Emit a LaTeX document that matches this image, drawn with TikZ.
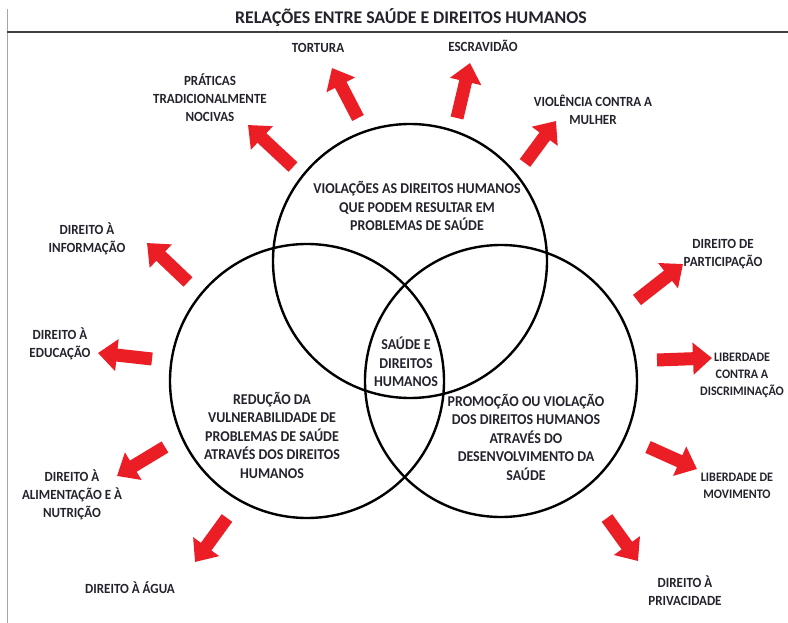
\documentclass[tikz,border=0pt]{standalone}
\usepackage{fontspec}
\setmainfont{Carlito}
\newfontfamily\narrowfont[FakeStretch=0.93]{Carlito}
\usetikzlibrary{arrows.meta}
\definecolor{arrred}{RGB}{234,30,36}
\definecolor{txt}{RGB}{35,35,45}
\begin{document}
\begin{tikzpicture}[x=1pt,y=-1pt,
  lbl/.style={font=\narrowfont\fontsize{14}{18}\selectfont\bfseries,text=txt,align=center,inner sep=0pt},
  slbl/.style={font=\narrowfont\fontsize{13}{17}\selectfont\bfseries,text=txt,align=center,inner sep=0pt},
  clbl/.style={font=\narrowfont\fontsize{15}{18.5}\selectfont\bfseries,text=txt,align=center,inner sep=0pt},
  ring/.style={draw=black,line width=2.4pt},
  bigarrow/.style={draw=arrred,line width=13pt,-{Triangle[length=19pt,width=31pt]}}]
\useasboundingbox (0,0) rectangle (788,623);
% frame
\draw[gray!70,line width=1pt] (7,9) -- (7,623);
\draw[black!75,line width=2.2pt] (7,32) -- (788,32);
\node[font=\fontsize{17.8}{19}\selectfont\bfseries,text=txt,inner sep=0pt] (title) at (411,18) {RELAÇÕES ENTRE SAÚDE E DIREITOS HUMANOS};
% circles
\node[ring,circle,minimum size=274pt,inner sep=0pt] (ctop) at (410,261) {};
\node[ring,circle,minimum size=274pt,inner sep=0pt] (cleft) at (307,381) {};
\node[ring,circle,minimum size=272pt,inner sep=0pt] (cright) at (501,381) {};
% circle texts
\node[clbl] (ttop) at (417,206) {VIOLAÇÕES AS DIREITOS HUMANOS\\QUE PODEM RESULTAR EM\\PROBLEMAS DE SAÚDE};
\node[clbl] (tcenter) at (406,362) {SAÚDE E\\DIREITOS\\HUMANOS};
\node[clbl] (tleft) at (272,435) {REDUÇÃO DA\\VULNERABILIDADE DE\\PROBLEMAS DE SAÚDE\\ATRAVÉS DOS DIREITOS\\HUMANOS};
\node[clbl] (tright) at (526,437) {PROMOÇÃO OU VIOLAÇÃO\\DOS DIREITOS HUMANOS\\ATRAVÉS DO\\DESENVOLVIMENTO DA\\SAÚDE};
% outer labels
\node[lbl] (l1) at (210,98) {PRÁTICAS\\TRADICIONALMENTE\\NOCIVAS};
\node[lbl] (l2) at (318,48) {TORTURA};
\node[lbl] (l3) at (483,46) {ESCRAVIDÃO};
\node[lbl] (l4) at (593,110) {VIOLÊNCIA CONTRA A\\MULHER};
\node[lbl] (l5) at (87,239) {DIREITO À\\INFORMAÇÃO};
\node[lbl] (l6) at (60,344) {DIREITO À\\EDUCAÇÃO};
\node[lbl] (l7) at (72,495) {DIREITO À\\ALIMENTAÇÃO E À\\NUTRIÇÃO};
\node[lbl] (l8) at (130,588) {DIREITO À ÁGUA};
\node[lbl] (l9) at (723,254) {DIREITO DE\\PARTICIPAÇÃO};
\node[slbl] (l10) at (742,375) {LIBERDADE\\CONTRA A\\DISCRIMINAÇÃO};
\node[slbl] (l11) at (737,486) {LIBERDADE DE\\MOVIMENTO};
\node[lbl] (l12) at (685,591) {DIREITO À\\PRIVACIDADE};
% arrow anchors
\coordinate (s1) at (293,167); \coordinate (e1) at (248,125);
\coordinate (s2) at (358,118); \coordinate (e2) at (332,68);
\coordinate (s3) at (457,118); \coordinate (e3) at (470,63);
\coordinate (s4) at (525,163); \coordinate (e4) at (556,121);
\coordinate (s5) at (188,282); \coordinate (e5) at (147,243);
\coordinate (s6) at (152,359); \coordinate (e6) at (98,353);
\coordinate (s7) at (165,447); \coordinate (e7) at (117,476);
\coordinate (s8) at (227,518); \coordinate (e8) at (195,562);
\coordinate (s9) at (637,300); \coordinate (e9) at (683,264);
\coordinate (s10) at (657,360); \coordinate (e10) at (712,358);
\coordinate (s11) at (648,447); \coordinate (e11) at (697,469);
\coordinate (s12) at (607,518); \coordinate (e12) at (638,561);
\foreach \i in {1,...,12} { \draw[bigarrow] (s\i) -- (e\i); }
\end{tikzpicture}
\end{document}
